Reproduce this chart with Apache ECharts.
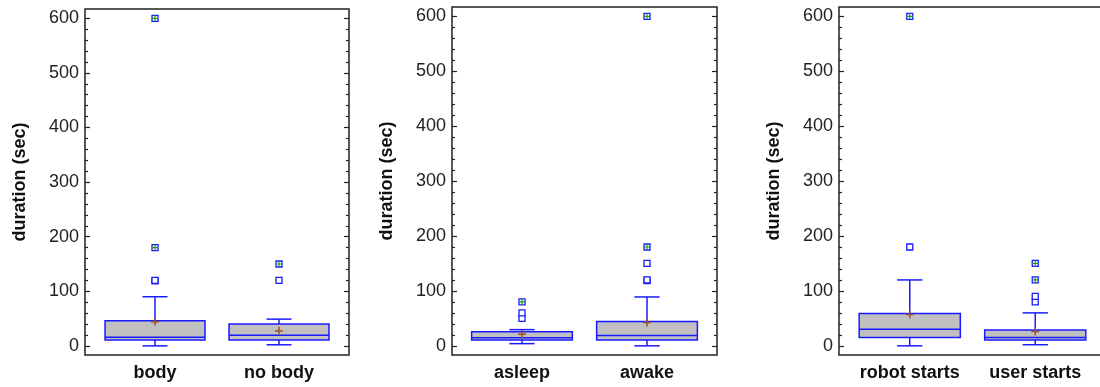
<!DOCTYPE html>
<html>
<head>
<meta charset="utf-8">
<script src="https://cdn.jsdelivr.net/npm/echarts@6/dist/echarts.min.js"></script>
<style>
  html, body { margin: 0; padding: 0; background: #fff; }
  #chart { width: 1100px; height: 387px; }
</style>
</head>
<body>
<div id="chart"></div>
<script>
/// data

const Y_MIN = -16.7
const Y_MAX = 617
const majorTicks = [0, 100, 200, 300, 400, 500, 600]
const minorTicks = [20, 40, 60, 80, 120, 140, 160, 180, 220, 240, 260, 280,
  320, 340, 360, 380, 420, 440, 460, 480, 520, 540, 560, 580]

// [min, q1, median, q3, max] per category
const cats1 = ['body', 'no body']
const box1 = [[0, 11, 16, 46, 90], [2, 11, 19.5, 40, 49]]
const mean1 = [44, 27.5]
const out1 = [[119, 120], [120]]
const far1 = [[180, 600], [150]]

const cats2 = ['asleep', 'awake']
const box2 = [[4, 10.5, 14.6, 25.5, 29.5], [0, 10.5, 19, 44.5, 89]]
const mean2 = [21, 42.5]
const out2 = [[50, 60], [119, 120, 150]]
const far2 = [[80], [180, 600]]

const cats3 = ['robot starts', 'user starts']
const box3 = [[0, 15, 30, 59, 120], [2, 10.5, 15, 29, 60]]
const mean3 = [57, 26]
const out3 = [[180], [80, 90]]
const far3 = [[600], [120, 150]]


/// layout

const BLUE = '#1a1aff'
const FONT = 'Liberation Sans, Arial, sans-serif'

const panels = [
  { cats: cats1, box: box1, mean: mean1, out: out1, far: far1,
    frame: { left: 85, top: 9, width: 264, height: 346 }, inner: { left: 93, width: 248 } },
  { cats: cats2, box: box2, mean: mean2, out: out2, far: far2,
    frame: { left: 452, top: 7, width: 265, height: 348 }, inner: { left: 459.5, width: 250 } },
  { cats: cats3, box: box3, mean: mean3, out: out3, far: far3,
    frame: { left: 839, top: 7, width: 266, height: 348 }, inner: { left: 847, width: 251 } }
]

function renderBox(params, api) {
  const x = api.value(0)
  const lo = api.coord([x, api.value(1)])
  const q1 = api.coord([x, api.value(2)])
  const md = api.coord([x, api.value(3)])
  const q3 = api.coord([x, api.value(4)])
  const hi = api.coord([x, api.value(5)])
  const mn = api.coord([x, api.value(6)])
  const bw = api.size([1, 0])[0] * 0.806
  const cw = bw / 4
  const cx = lo[0]
  const line = (x1, y1, x2, y2, color, w) => ({
    type: 'line', shape: { x1, y1, x2, y2 },
    style: { stroke: color, lineWidth: w }
  })
  return {
    type: 'group',
    children: [
      line(cx, hi[1], cx, q3[1], BLUE, 1.5),
      line(cx, lo[1], cx, q1[1], BLUE, 1.5),
      line(cx - cw / 2, hi[1], cx + cw / 2, hi[1], BLUE, 1.5),
      line(cx - cw / 2, lo[1], cx + cw / 2, lo[1], BLUE, 1.5),
      {
        type: 'rect',
        shape: { x: cx - bw / 2, y: q3[1], width: bw, height: q1[1] - q3[1] },
        style: { fill: '#c0c0c0', stroke: BLUE, lineWidth: 1.5 }
      },
      line(cx - bw / 2, md[1], cx + bw / 2, md[1], BLUE, 1.5),
      line(cx - 4, mn[1], cx + 4, mn[1], '#a0522d', 1.5),
      line(cx, mn[1] - 4, cx, mn[1] + 4, '#a0522d', 1.5)
    ]
  }
}

const grid = [], xAxis = [], yAxis = [], series = []

panels.forEach(p => {
  const fg = grid.length
  grid.push({ ...p.frame, show: true, borderColor: '#222', borderWidth: 1.5,
    backgroundColor: 'transparent', containLabel: false, outerBoundsMode: 'none' })
  xAxis.push({ gridIndex: fg, type: 'value', show: false, min: 0, max: 1 })

  const tickAxis = (pos, values, len, withLabels) => ({
    gridIndex: fg, type: 'value', position: pos, offset: 0,
    min: Y_MIN, max: Y_MAX,
    axisLine: { show: false },
    splitLine: { show: false },
    axisTick: { show: true, inside: true, length: len, customValues: values,
      lineStyle: { color: '#222', width: 1.2 } },
    axisLabel: withLabels
      ? { show: true, customValues: values, fontSize: 18, color: '#222', fontFamily: FONT, margin: 6 }
      : { show: false },
    name: withLabels ? 'duration (sec)' : '',
    nameLocation: 'middle',
    nameGap: 56,
    nameTextStyle: { fontSize: 18, fontWeight: 'bold', color: '#111', fontFamily: FONT }
  })
  yAxis.push(tickAxis('left', majorTicks, 5, true))
  yAxis.push(tickAxis('left', minorTicks, 3, false))
  yAxis.push(tickAxis('right', majorTicks, 5, false))
  yAxis.push(tickAxis('right', minorTicks, 3, false))

  const dg = grid.length
  grid.push({ left: p.inner.left, width: p.inner.width, top: p.frame.top, height: p.frame.height,
    containLabel: false, outerBoundsMode: 'none' })
  const xi = xAxis.length
  xAxis.push({
    gridIndex: dg, type: 'category', data: p.cats, boundaryGap: true,
    axisLine: { show: false }, axisTick: { show: false },
    axisLabel: { interval: 0, fontSize: 18, fontWeight: 'bold', color: '#111', fontFamily: FONT, margin: 9 }
  })
  const yi = yAxis.length
  yAxis.push({ gridIndex: dg, type: 'value', min: Y_MIN, max: Y_MAX, show: false })

  series.push({
    type: 'custom', xAxisIndex: xi, yAxisIndex: yi,
    renderItem: renderBox,
    encode: { x: 0, y: [1, 2, 3, 4, 5, 6] },
    data: p.box.map((b, i) => [i, ...b, p.mean[i]]),
    z: 2
  })
  const pts = p.out.map((v, i) => v.map(y => [i, y])).flat()
  const farPts = p.far.map((v, i) => v.map(y => [i, y])).flat()
  series.push({
    type: 'scatter', xAxisIndex: xi, yAxisIndex: yi,
    symbol: 'rect', symbolSize: 6,
    itemStyle: { color: '#fff', borderColor: BLUE, borderWidth: 1.3, opacity: 1 },
    data: pts.concat(farPts), z: 3
  })
  series.push({
    type: 'scatter', xAxisIndex: xi, yAxisIndex: yi,
    symbol: 'path://M4,0h2v4h4v2h-4v4h-2v-4h-4v-2h4z', symbolSize: 6,
    itemStyle: { color: '#1f9a1f', opacity: 1 },
    data: farPts, z: 4
  })
})

const chart = echarts.init(document.getElementById('chart'), null, { renderer: 'canvas' })
chart.setOption({
  animation: false,
  backgroundColor: '#fff',
  grid, xAxis, yAxis, series
})
</script>
</body>
</html>
